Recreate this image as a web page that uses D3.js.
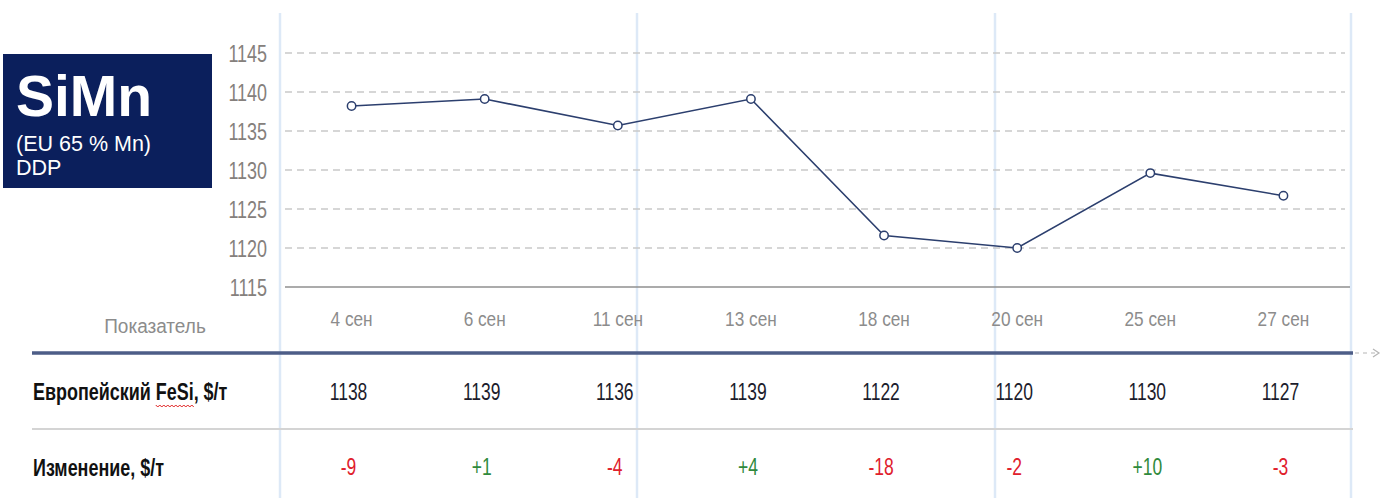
<!DOCTYPE html>
<html><head><meta charset="utf-8">
<script src="https://cdn.jsdelivr.net/npm/d3@7"></script>
<style>
html,body{margin:0;padding:0;background:#fff;}
svg{display:block;}
</style></head>
<body>
<svg id="c" width="1381" height="498"></svg>
<script>
const dates = ["4 сен","6 сен","11 сен","13 сен","18 сен","20 сен","25 сен","27 сен"];
const prices = [1138.2, 1139.1, 1135.7, 1139.1, 1121.6, 1120.0, 1129.6, 1126.7];
const changes = [-9, 1, -4, 4, -18, -2, 10, -3];
const yTicks = [1115, 1120, 1125, 1130, 1135, 1140, 1145];
const rowLabels = ["Европейский FeSi, $/т", "Изменение, $/т"];
const headerLabel = "Показатель";
const titleMain = "SiMn";
const titleSub = ["(EU 65 % Mn)", "DDP"];

const sans = "'Liberation Sans',Arial,sans-serif";
const K = 0.78; // condense factor (emulates Arial Narrow)

function condense(sel, k) {
  sel.each(function () {
    const w = this.getComputedTextLength();
    d3.select(this).attr("textLength", w * k).attr("lengthAdjust", "spacingAndGlyphs");
  });
}

const svg = d3.select("#c");
const x = d3.scaleBand().domain(dates).range([285, 1350]);
const cx = d => x(d) + x.bandwidth() / 2;
const y = d3.scaleLinear().domain([1115, 1145]).range([287, 53]);

// vertical light-blue separators
const vlines = [280, 637, 995, 1351];
svg.append("g").selectAll("line").data(vlines).join("line")
  .attr("x1", d => d).attr("x2", d => d).attr("y1", 13).attr("y2", 498)
  .attr("stroke", "#dde9f7").attr("stroke-width", 2.5);

// gridlines
svg.append("g").selectAll("line").data(yTicks.filter(t => t > 1115)).join("line")
  .attr("x1", 285).attr("x2", 1345).attr("y1", d => y(d)).attr("y2", d => y(d))
  .attr("stroke", "#c9c9c9").attr("stroke-width", 1.5).attr("stroke-dasharray", "7,5");

// baseline
svg.append("line").attr("x1", 285).attr("x2", 1350).attr("y1", y(1115)).attr("y2", y(1115))
  .attr("stroke", "#8f8f8f").attr("stroke-width", 1.5);

// y axis labels
const yAxis = d3.axisLeft(y).tickValues(yTicks).tickSize(0).tickPadding(0).tickFormat(d3.format("d"));
const ya = svg.append("g").attr("transform", "translate(267,0)").call(yAxis);
ya.select(".domain").remove();
const yt = ya.selectAll("text").attr("font-family", sans).attr("font-size", 23)
  .attr("fill", "#85807c").attr("dy", "0.36em");
condense(yt, K);

// line
svg.append("path").datum(prices)
  .attr("d", d3.line().x((d, i) => cx(dates[i])).y(d => y(d)))
  .attr("fill", "none").attr("stroke", "#2c3f6e").attr("stroke-width", 1.6);
svg.append("g").selectAll("circle").data(prices).join("circle")
  .attr("cx", (d, i) => cx(dates[i])).attr("cy", d => y(d)).attr("r", 4.2)
  .attr("fill", "#fff").attr("stroke", "#2c3f6e").attr("stroke-width", 1.5);

// title box
svg.append("rect").attr("x", 3).attr("y", 54).attr("width", 209).attr("height", 134).attr("fill", "#0b1f5c");
svg.append("text").attr("x", 16).attr("y", 116).text(titleMain)
  .attr("font-family", sans).attr("font-weight", "bold").attr("font-size", 57).attr("fill", "#fff");
svg.append("g").selectAll("text").data(titleSub).join("text")
  .attr("x", 16).attr("y", (d, i) => 151 + i * 24).text(d => d)
  .attr("font-family", sans).attr("font-size", 21.5).attr("fill", "#fff");

// table header
const hl = svg.append("text").attr("x", 155).attr("y", 333).attr("text-anchor", "middle").text(headerLabel)
  .attr("font-family", sans).attr("font-size", 20).attr("fill", "#8c8c8c");
condense(hl, 0.95);
const ht = svg.append("g").selectAll("text").data(dates).join("text")
  .attr("x", d => cx(d)).attr("y", 326).attr("text-anchor", "middle").text(d => d)
  .attr("font-family", sans).attr("font-size", 21).attr("fill", "#8c8c8c");
condense(ht, 0.82);

// thick header rule
svg.append("line").attr("x1", 32).attr("x2", 1353).attr("y1", 353).attr("y2", 353)
  .attr("stroke", "#4d5d87").attr("stroke-width", 3.5);
svg.append("line").attr("x1", 1355).attr("x2", 1376).attr("y1", 353).attr("y2", 353)
  .attr("stroke", "#b5b5b5").attr("stroke-width", 1.2).attr("stroke-dasharray", "4,4");
svg.append("path").attr("d", "M1373,349 L1379,353 L1373,357").attr("fill", "none")
  .attr("stroke", "#b5b5b5").attr("stroke-width", 1.2);

// row separator
svg.append("line").attr("x1", 32).attr("x2", 1353).attr("y1", 429).attr("y2", 429)
  .attr("stroke", "#d4d4d4").attr("stroke-width", 2);

// row labels
const rl = svg.append("g").selectAll("text").data(rowLabels).join("text")
  .attr("x", 33).attr("y", (d, i) => i === 0 ? 400 : 476).text(d => d)
  .attr("font-family", sans).attr("font-weight", "bold").attr("font-size", 23).attr("fill", "#111");

// spell-check squiggle under "FeSi" (measured before condensing)
(function () {
  const node = rl.nodes()[0];
  const s = rowLabels[0];
  const idx = s.indexOf("FeSi");
  const x0 = 33 + node.getSubStringLength(0, idx) * K;
  const w = node.getSubStringLength(idx, 4) * K;
  let d = "M" + x0 + ",405";
  for (let xx = x0, k = 0; xx < x0 + w; xx += 2, k++) d += " L" + (xx + 2) + "," + (k % 2 ? 405 : 407);
  svg.append("path").attr("d", d).attr("fill", "none").attr("stroke", "#e02020").attr("stroke-width", 1);
})();
condense(rl, K);

// row values
const v1 = svg.append("g").selectAll("text").data(prices).join("text")
  .attr("x", (d, i) => cx(dates[i]) - 3).attr("y", 400).attr("text-anchor", "middle")
  .text(d => d3.format(".0f")(d))
  .attr("font-family", sans).attr("font-size", 23).attr("fill", "#1c1c2c");
condense(v1, 0.76);
const v2 = svg.append("g").selectAll("text").data(changes).join("text")
  .attr("x", (d, i) => cx(dates[i]) - 3).attr("y", 475).attr("text-anchor", "middle")
  .text(d => (d > 0 ? "+" : "") + d)
  .attr("font-family", sans).attr("font-size", 23)
  .attr("fill", d => d < 0 ? "#e0202c" : "#2f8a3c");
condense(v2, 0.76);
</script>
</body></html>
